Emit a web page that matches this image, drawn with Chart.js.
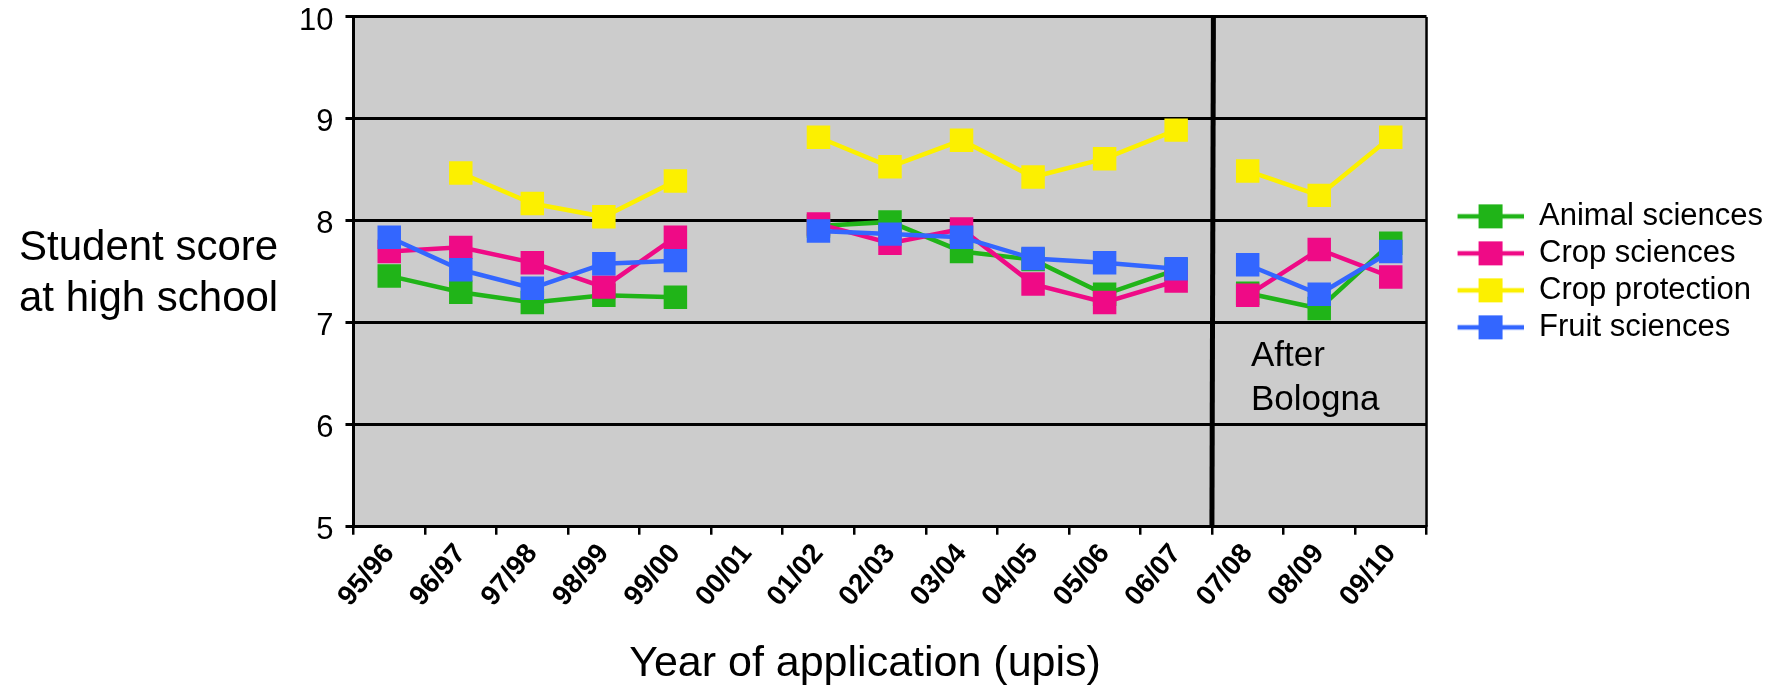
<!DOCTYPE html>
<html>
<head>
<meta charset="utf-8">
<script src="https://cdn.jsdelivr.net/npm/chart.js"></script>
<style>
  body { margin: 0; background: #fff; }
</style>
</head>
<body>
<canvas id="scores" width="1781" height="687"></canvas>
<script>
// school years of application
const years = ["95/96", "96/97", "97/98", "98/99", "99/00", "00/01", "01/02", "02/03", "03/04", "04/05", "05/06", "06/07", "07/08", "08/09", "09/10"];

// mean high school score per study programme (null = no data)
const animalSciences = [7.46, 7.30, 7.20, 7.27, 7.25, null, 7.95, 7.99, 7.70, 7.62, 7.28, 7.52, 7.29, 7.14, 7.78];
const cropSciences   = [7.70, 7.74, 7.59, 7.35, 7.84, null, 7.97, 7.78, 7.92, 7.38, 7.20, 7.41, 7.27, 7.72, 7.45];
const cropProtection = [null, 8.47, 8.17, 8.04, 8.39, null, 8.82, 8.53, 8.79, 8.43, 8.61, 8.89, 8.49, 8.25, 8.82];
const fruitSciences  = [7.84, 7.52, 7.34, 7.58, 7.61, null, 7.90, 7.87, 7.84, 7.63, 7.59, 7.53, 7.57, 7.28, 7.70];

const yTicks = [5, 6, 7, 8, 9, 10];
const lastBeforeBologna = 11; // index of 06/07

const FONT = "'Liberation Sans', Arial, Helvetica, sans-serif";

// small legend samples: line with a square on it
function sample(color) {
  const c = document.createElement("canvas");
  c.width = 91; c.height = 26;
  const g = c.getContext("2d");
  g.strokeStyle = color;
  g.lineWidth = 4.5;
  g.beginPath(); g.moveTo(25, 13); g.lineTo(91, 13); g.stroke();
  g.fillStyle = color;
  g.fillRect(58 - 12, 1, 24, 24);
  return c;
}

function series(label, data, color, order) {
  return {
    label: label,
    data: data,
    order: order,
    borderColor: color,
    backgroundColor: color,
    borderWidth: 4.5,
    pointStyle: "rect",
    pointRadius: 16.6,
    pointHoverRadius: 16.6,
    pointBorderWidth: 0,
    pointBackgroundColor: color,
    spanGaps: false,
    tension: 0,
    segment: {
      borderColor: ctx => ctx.p0DataIndex === lastBeforeBologna ? "transparent" : undefined
    },
    legendSample: sample(color)
  };
}

const plotDecor = {
  id: "plotDecor",
  beforeDraw(chart) {
    const { ctx, chartArea: a } = chart;
    ctx.save();
    ctx.fillStyle = "#cccccc";
    ctx.fillRect(a.left, a.top, a.right - a.left, a.bottom - a.top);
    ctx.restore();
  },
  beforeDatasetsDraw(chart) {
    const { ctx, chartArea: a } = chart;
    const x = chart.scales.x;
    const bx = (x.getPixelForValue(lastBeforeBologna) + x.getPixelForValue(lastBeforeBologna + 1)) / 2;
    ctx.save();
    ctx.strokeStyle = "#000";
    // right frame
    ctx.lineWidth = 2.5;
    ctx.beginPath(); ctx.moveTo(a.right, a.top); ctx.lineTo(a.right, a.bottom); ctx.stroke();
    // Bologna divider
    ctx.lineWidth = 5;
    ctx.beginPath(); ctx.moveTo(bx + 1.5, a.top); ctx.lineTo(bx, a.bottom); ctx.stroke();
    ctx.fillStyle = "#000";
    ctx.font = "35px " + FONT;
    ctx.textAlign = "left";
    ctx.textBaseline = "alphabetic";
    ctx.fillText("After", bx + 39, 366);
    ctx.fillText("Bologna", bx + 39, 410);
    ctx.restore();
  },
  afterDraw(chart) {
    const { ctx, chartArea: a } = chart;
    ctx.save();
    ctx.fillStyle = "#000";
    ctx.font = "42px " + FONT;
    ctx.textAlign = "left";
    ctx.textBaseline = "alphabetic";
    ctx.fillText("Student score", 19, 260);
    ctx.fillText("at high school", 19, 311);
    // x axis title, sits a little left of the plot centre in the original
    ctx.font = "43px " + FONT;
    ctx.textAlign = "center";
    ctx.textBaseline = "middle";
    ctx.fillText("Year of application (upis)", (a.left + a.right) / 2 - 25, 664);
    ctx.restore();
  }
};

new Chart(document.getElementById("scores"), {
  type: "line",
  data: {
    labels: years,
    datasets: [
      series("Animal sciences", animalSciences, "#20b418", 3),
      series("Crop sciences", cropSciences, "#ef0a86", 2),
      series("Crop protection", cropProtection, "#fcf000", 1),
      series("Fruit sciences", fruitSciences, "#3366ff", 0)
    ]
  },
  options: {
    responsive: false,
    animation: false,
    devicePixelRatio: 1,
    layout: { padding: { left: 287, right: 8, top: 0, bottom: 0 } },
    scales: {
      x: {
        offset: true,
        grid: { offset: true, drawOnChartArea: false, drawTicks: true, tickLength: 8, color: "#000", lineWidth: 2.5 },
        border: { display: true, color: "#000", width: 3 },
        ticks: {
          autoSkip: false, minRotation: 50, maxRotation: 50, padding: 3,
          color: "#000", font: { family: FONT, size: 28, weight: "bold" }
        },
        afterFit: axis => { axis.height += 71; }
      },
      y: {
        min: yTicks[0],
        max: yTicks[yTicks.length - 1],
        afterBuildTicks: axis => { axis.ticks = yTicks.map(v => ({ value: v })); },
        grid: { color: "#000", lineWidth: 3, tickLength: 8, drawTicks: true },
        border: { display: true, color: "#000", width: 3 },
        ticks: { padding: 12, labelOffset: 4, color: "#000", font: { family: FONT, size: 31, lineHeight: 0.32 } }
      }
    },
    plugins: {
      tooltip: { enabled: false },
      legend: {
        position: "right",
        fullSize: false,
        labels: {
          usePointStyle: true,
          pointStyleWidth: 91,
          padding: 6,
          color: "#000",
          font: { family: FONT, size: 31 },
          sort: (a, b) => a.datasetIndex - b.datasetIndex,
          generateLabels: chart => Chart.defaults.plugins.legend.labels.generateLabels(chart).map(item => {
            item.pointStyle = chart.data.datasets[item.datasetIndex].legendSample;
            return item;
          })
        }
      }
    }
  },
  plugins: [plotDecor]
});
</script>
</body>
</html>
